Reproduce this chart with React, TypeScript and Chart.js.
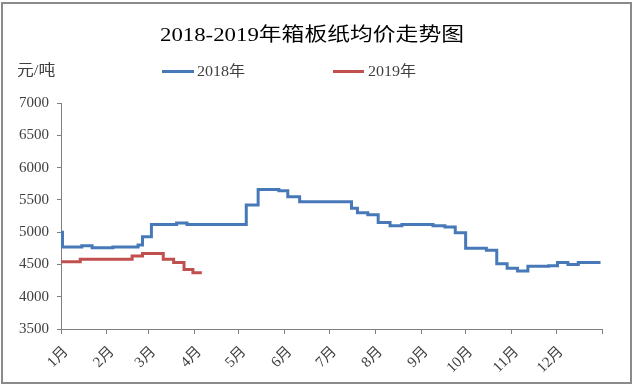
import React, { useEffect, useRef } from "react";
import { Chart, registerables } from "chart.js";

Chart.register(...registerables);

// ---- data ----
const monthStartDays = [0, 31, 59, 90, 120, 151, 181, 212, 243, 273, 304, 334, 365];
const monthLabels = ["1月", "2月", "3月", "4月", "5月", "6月", "7月", "8月", "9月", "10月", "11月", "12月", ""];

const days2018 = [0, 1, 14, 21, 35, 52, 55, 61, 78, 85, 125, 133, 147, 153, 161, 196, 200, 207, 214, 222, 230, 251, 259, 266, 273, 287, 294, 301, 308, 315, 329, 335, 342, 349, 364];
const price2018 = [5000, 4770, 4790, 4760, 4770, 4800, 4930, 5120, 5140, 5120, 5420, 5660, 5640, 5550, 5470, 5370, 5300, 5270, 5150, 5100, 5120, 5100, 5080, 4990, 4750, 4720, 4510, 4440, 4400, 4470, 4480, 4530, 4500, 4530, 4530];

const days2019 = [0, 13, 48, 55, 69, 76, 83, 89, 95];
const price2019 = [4540, 4580, 4630, 4670, 4580, 4530, 4420, 4370, 4370];

const yTicks = { min: 3500, max: 7000, step: 500 };

const titleText = "2018-2019年箱板纸均价走势图";
const unitText = "元/吨";
const seriesNames = ["2018年", "2019年"];
const seriesColors = ["#4779B8", "#C0504D"];

const FONT = '"Liberation Serif", "Noto Sans CJK SC", serif';

export default function App() {
  const canvasRef = useRef<HTMLCanvasElement | null>(null);

  useEffect(() => {
    if (!canvasRef.current) return;
    const chart = new Chart(canvasRef.current, {
      type: "line",
      data: {
        datasets: [
          {
            label: seriesNames[0],
            data: days2018.map((d, i) => ({ x: d, y: price2018[i] })),
            borderColor: seriesColors[0],
            backgroundColor: seriesColors[0],
            borderWidth: 3,
            pointRadius: 0,
            stepped: true,
          },
          {
            label: seriesNames[1],
            data: days2019.map((d, i) => ({ x: d, y: price2019[i] })),
            borderColor: seriesColors[1],
            backgroundColor: seriesColors[1],
            borderWidth: 3,
            pointRadius: 0,
            stepped: true,
          },
        ],
      },
      options: {
        animation: false,
        responsive: false,
        devicePixelRatio: 1,
        layout: { padding: { top: 103, right: 32, left: 0, bottom: 0 } },
        plugins: {
          legend: { display: false },
          title: { display: false },
          tooltip: { enabled: false },
        },
        scales: {
          x: {
            type: "linear",
            min: monthStartDays[0],
            max: monthStartDays[monthStartDays.length - 1],
            afterBuildTicks: (scale: any) => {
              scale.ticks = monthStartDays.map((v) => ({ value: v }));
            },
            afterFit: (scale: any) => {
              scale.height = 59;
            },
            ticks: {
              autoSkip: false,
              minRotation: 45,
              maxRotation: 45,
              padding: 9,
              labelOffset: 5,
              color: "#404040",
              font: { family: FONT, size: 15 },
              callback: (_v: any, i: number) => monthLabels[i] ?? "",
            },
            grid: {
              drawOnChartArea: false,
              drawTicks: true,
              tickLength: 5,
              color: "#808080",
            },
            border: { color: "#808080", width: 1 },
          },
          y: {
            min: yTicks.min,
            max: yTicks.max,
            afterFit: (scale: any) => {
              scale.width = 61;
            },
            ticks: {
              stepSize: yTicks.step,
              padding: 8,
              color: "#404040",
              font: { family: FONT, size: 15 },
              callback: (v: any) => String(v),
            },
            grid: {
              drawOnChartArea: false,
              drawTicks: true,
              tickLength: 4,
              color: "#808080",
            },
            border: { color: "#808080", width: 1 },
          },
        },
      },
    });
    return () => chart.destroy();
  }, []);

  const textBase: React.CSSProperties = {
    position: "absolute",
    whiteSpace: "nowrap",
    fontFamily: FONT,
    lineHeight: 1,
  };

  return (
    <div
      style={{
        position: "fixed",
        left: 0,
        top: 0,
        width: 634,
        height: 388,
        background: "#fff",
        overflow: "hidden",
      }}
    >
      <div
        style={{
          position: "absolute",
          left: 1,
          top: 2,
          width: 631,
          height: 382,
          boxSizing: "border-box",
          border: "2px solid #8a8a8a",
        }}
      />
      <canvas
        ref={canvasRef}
        width={634}
        height={388}
        style={{ position: "absolute", left: 0, top: 0, width: 634, height: 388 }}
      />
      <div
        style={{
          ...textBase,
          left: 160,
          top: 25,
          fontSize: 19,
          color: "#000",
          transformOrigin: "left center",
          transform: "scaleX(1.2)",
        }}
      >
        {titleText}
      </div>
      <div
        style={{
          ...textBase,
          left: 17,
          top: 63,
          fontSize: 15,
          color: "#404040",
          transformOrigin: "left center",
          transform: "scaleX(1.12)",
        }}
      >
        {unitText}
      </div>
      <div style={{ position: "absolute", left: 162, top: 70, width: 32, height: 3, background: seriesColors[0] }} />
      <div
        style={{
          ...textBase,
          left: 197,
          top: 64,
          fontSize: 15,
          color: "#404040",
          transformOrigin: "left center",
          transform: "scaleX(1.07)",
        }}
      >
        {seriesNames[0]}
      </div>
      <div style={{ position: "absolute", left: 333, top: 70, width: 31, height: 3, background: seriesColors[1] }} />
      <div
        style={{
          ...textBase,
          left: 368,
          top: 64,
          fontSize: 15,
          color: "#404040",
          transformOrigin: "left center",
          transform: "scaleX(1.07)",
        }}
      >
        {seriesNames[1]}
      </div>
    </div>
  );
}
